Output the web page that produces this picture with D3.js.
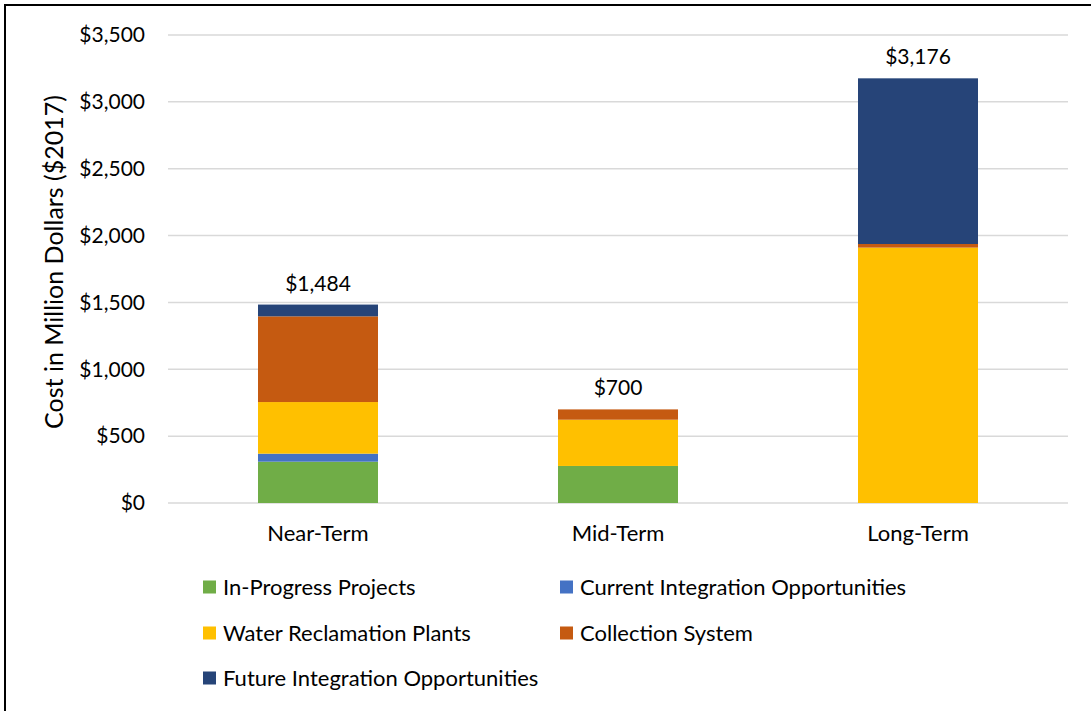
<!DOCTYPE html>
<html><head><meta charset="utf-8">
<script src="https://cdn.jsdelivr.net/npm/d3@7"></script>
<style>body{margin:0;background:#fff;} svg{display:block;} text{font-family:Lato,"Open Sans",sans-serif;fill:#000;}</style>
</head><body>
<svg id="chart" width="1091" height="711"></svg>
<script>
const categories = ["Near-Term", "Mid-Term", "Long-Term"];
const seriesNames = ["In-Progress Projects", "Current Integration Opportunities", "Water Reclamation Plants", "Collection System", "Future Integration Opportunities"];
const inProgress = [309, 277, 0];
const currentIntegration = [60, 0, 0];
const waterReclamation = [386, 346, 1910];
const collectionSystem = [641, 77, 27];
const futureIntegration = [88, 0, 1239];
const totalLabels = ["$1,484", "$700", "$3,176"];
const yTicks = [0, 500, 1000, 1500, 2000, 2500, 3000, 3500];
const colors = ["#70ad47", "#4472c4", "#ffc000", "#c55a11", "#264478"];

const seriesValues = [inProgress, currentIntegration, waterReclamation, collectionSystem, futureIntegration];
const rows = categories.map((c, i) => {
  const r = {cat: c};
  seriesNames.forEach((s, j) => r[s] = seriesValues[j][i]);
  return r;
});
const stack = d3.stack().keys(seriesNames)(rows);

const svg = d3.select("#chart");
svg.append("rect").attr("x", 5).attr("y", 5).attr("width", 1100).attr("height", 720)
  .attr("fill", "none").attr("stroke", "#000").attr("stroke-width", 2);

const x = d3.scaleBand().domain(categories).range([168, 1068]).paddingInner(0.6).paddingOuter(0.3);
const y = d3.scaleLinear().domain([0, 3500]).range([503, 35]);

// grid
svg.append("g").selectAll("line").data(yTicks).join("line")
  .attr("x1", 168).attr("x2", 1068)
  .attr("y1", d => y(d)).attr("y2", d => y(d))
  .attr("stroke", "#d9d9d9").attr("stroke-width", 1.5);

// y tick labels
const fmt = d => "$" + d3.format(",")(d);
svg.append("g").selectAll("text").data(yTicks).join("text")
  .attr("x", 145).attr("y", d => y(d)).attr("dy", "0.35em")
  .attr("text-anchor", "end").attr("font-size", 21).text(fmt);

// axis title
svg.append("text").attr("transform", "translate(63,262) rotate(-90)")
  .attr("text-anchor", "middle").attr("font-size", 25).text("Cost in Million Dollars ($2017)");

// bars
svg.append("g").selectAll("g").data(stack).join("g")
  .attr("fill", (d, i) => colors[i])
  .selectAll("rect").data(d => d).join("rect")
  .attr("x", d => x(d.data.cat)).attr("width", x.bandwidth())
  .attr("y", d => y(d[1])).attr("height", d => y(d[0]) - y(d[1]));

// totals
svg.append("g").selectAll("text").data(categories).join("text")
  .attr("x", d => x(d) + x.bandwidth() / 2)
  .attr("y", (d, i) => y(d3.sum(seriesValues, s => s[i])) - 14)
  .attr("text-anchor", "middle").attr("font-size", 21).text((d, i) => totalLabels[i]);

// category labels
svg.append("g").selectAll("text").data(categories).join("text")
  .attr("x", d => x(d) + x.bandwidth() / 2).attr("y", 541)
  .attr("text-anchor", "middle").attr("font-size", 22).text(d => d);

// legend
const legPos = [[203, 587], [560, 587], [203, 633], [560, 633], [203, 678]];
const leg = svg.append("g").selectAll("g").data(seriesNames).join("g")
  .attr("transform", (d, i) => `translate(${legPos[i][0]},${legPos[i][1]})`);
leg.append("rect").attr("x", 0).attr("y", -6.5).attr("width", 13).attr("height", 13).attr("fill", (d, i) => colors[i]);
leg.append("text").attr("x", 20).attr("y", 0).attr("dy", "0.35em").attr("font-size", 22).text(d => d);
</script>
</body></html>
